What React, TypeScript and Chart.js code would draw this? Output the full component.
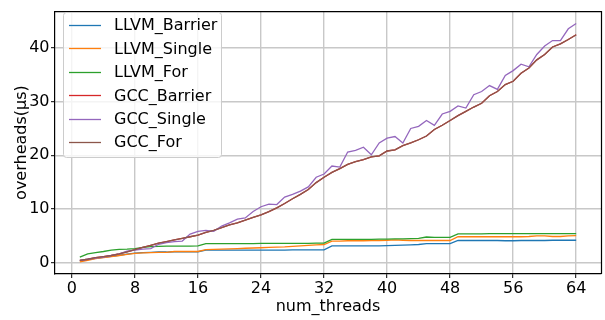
import React, { useEffect, useRef } from 'react';
import { Chart, registerables } from 'chart.js';

Chart.register(...registerables);

const threads: number[] = Array.from({ length: 64 }, (_, i) => i + 1);

const xTicks = [0, 8, 16, 24, 32, 40, 48, 56, 64];
const yTicks = [0, 10, 20, 30, 40];

const seriesNames = ['LLVM_Barrier', 'LLVM_Single', 'LLVM_For', 'GCC_Barrier', 'GCC_Single', 'GCC_For'];
const seriesColors = ['#1f77b4', '#ff7f0e', '#2ca02c', '#d62728', '#9467bd', '#8c564b'];

const llvmBarrier = [
  0.35, 0.55, 0.75, 0.95, 1.15, 1.35, 1.55, 1.75, 1.85, 1.9, 1.95, 1.95, 2.0, 2.0, 2.0, 2.0,
  2.3, 2.3, 2.3, 2.3, 2.3, 2.3, 2.3, 2.3, 2.3, 2.3, 2.3, 2.35, 2.35, 2.35, 2.35, 2.35,
  3.1, 3.1, 3.1, 3.1, 3.1, 3.1, 3.1, 3.15, 3.2, 3.25, 3.3, 3.35, 3.5, 3.5, 3.5, 3.5,
  4.1, 4.1, 4.1, 4.1, 4.1, 4.1, 4.05, 4.05, 4.1, 4.1, 4.1, 4.1, 4.15, 4.15, 4.15, 4.15,
];

const llvmSingle = [
  0.1, 0.4, 0.7, 0.9, 1.1, 1.3, 1.5, 1.7, 1.8, 1.85, 1.9, 1.9, 2.05, 2.05, 2.05, 2.05,
  2.4, 2.45, 2.5, 2.55, 2.6, 2.65, 2.7, 2.75, 2.8, 2.85, 2.9, 3.0, 3.1, 3.2, 3.3, 3.35,
  4.0, 4.0, 4.05, 4.05, 4.05, 4.1, 4.1, 4.15, 4.2, 4.15, 4.1, 4.1, 4.1, 4.1, 4.1, 4.1,
  4.8, 4.8, 4.8, 4.8, 4.8, 4.8, 4.8, 4.8, 4.8, 4.85, 4.95, 4.95, 4.85, 4.85, 4.95, 5.0,
];

const llvmFor = [
  1.0, 1.6, 1.85, 2.05, 2.3, 2.45, 2.5, 2.6, 2.8, 2.95, 3.0, 3.05, 3.05, 3.05, 3.05, 3.1,
  3.5, 3.5, 3.5, 3.5, 3.5, 3.5, 3.5, 3.55, 3.55, 3.55, 3.55, 3.55, 3.55, 3.55, 3.6, 3.6,
  4.3, 4.3, 4.3, 4.3, 4.3, 4.3, 4.35, 4.35, 4.4, 4.4, 4.45, 4.5, 4.75, 4.7, 4.7, 4.7,
  5.35, 5.35, 5.35, 5.35, 5.4, 5.4, 5.4, 5.4, 5.4, 5.4, 5.4, 5.4, 5.4, 5.4, 5.4, 5.4,
];

const gccBarrier = [
  0.4, 0.6, 0.9, 1.1, 1.3, 1.6, 2.0, 2.4, 2.8, 3.2, 3.6, 3.9, 4.2, 4.5, 4.8, 5.1,
  5.6, 6.0, 6.5, 7.0, 7.4, 7.9, 8.4, 8.9, 9.5, 10.2, 11.0, 11.9, 12.7, 13.6, 14.9, 15.9,
  16.8, 17.5, 18.3, 18.8, 19.2, 19.7, 19.9, 20.8, 21.0, 21.8, 22.3, 22.9, 23.6, 24.8, 25.6, 26.5,
  27.4, 28.2, 29.0, 29.7, 31.1, 31.9, 33.2, 33.8, 35.3, 36.3, 37.8, 38.8, 40.2, 40.8, 41.6, 42.5,
];

const gccSingle = [
  0.4, 0.6, 0.8, 1.0, 1.3, 1.6, 2.1, 2.3, 2.5, 2.6, 3.4, 3.7, 3.9, 4.0, 5.3, 5.8,
  6.0, 5.8, 6.8, 7.4, 8.1, 8.3, 9.5, 10.4, 10.9, 10.8, 12.2, 12.7, 13.3, 14.1, 15.9, 16.5,
  18.0, 17.8, 20.6, 20.9, 21.5, 20.1, 22.3, 23.2, 23.5, 22.3, 25.0, 25.4, 26.5, 25.6, 27.7, 28.2,
  29.2, 28.8, 31.3, 31.9, 33.0, 32.3, 34.9, 35.8, 37.0, 36.5, 38.8, 40.4, 41.4, 41.4, 43.6, 44.6,
];

const gccFor = [
  0.4, 0.6, 0.9, 1.1, 1.3, 1.6, 2.0, 2.4, 2.8, 3.2, 3.6, 3.9, 4.2, 4.5, 4.8, 5.1,
  5.6, 6.0, 6.5, 7.0, 7.4, 7.9, 8.4, 8.9, 9.5, 10.2, 11.0, 11.9, 12.7, 13.6, 14.9, 15.9,
  16.8, 17.5, 18.3, 18.8, 19.2, 19.7, 19.9, 20.8, 21.0, 21.8, 22.3, 22.9, 23.6, 24.8, 25.6, 26.5,
  27.4, 28.2, 29.0, 29.7, 31.1, 31.9, 33.2, 33.8, 35.3, 36.3, 37.8, 38.8, 40.2, 40.8, 41.6, 42.5,
];

const seriesValues = [llvmBarrier, llvmSingle, llvmFor, gccBarrier, gccSingle, gccFor];

const FONT = '"DejaVu Sans", sans-serif';

const framePlugin = {
  id: 'frameAndLegend',
  afterDraw(chart: any) {
    const ctx = chart.ctx as CanvasRenderingContext2D;
    const a = chart.chartArea;
    ctx.save();
    // top and right spines
    ctx.strokeStyle = '#000';
    ctx.lineWidth = 1.2;
    ctx.beginPath();
    ctx.moveTo(a.left, a.top + 0.5);
    ctx.lineTo(a.right + 0.5, a.top + 0.5);
    ctx.lineTo(a.right + 0.5, a.bottom);
    ctx.stroke();

    // legend
    const bx = 63.5, by = 12.5, bw = 158, bh = 145, r = 3;
    ctx.beginPath();
    ctx.moveTo(bx + r, by);
    ctx.lineTo(bx + bw - r, by);
    ctx.arcTo(bx + bw, by, bx + bw, by + r, r);
    ctx.lineTo(bx + bw, by + bh - r);
    ctx.arcTo(bx + bw, by + bh, bx + bw - r, by + bh, r);
    ctx.lineTo(bx + r, by + bh);
    ctx.arcTo(bx, by + bh, bx, by + bh - r, r);
    ctx.lineTo(bx, by + r);
    ctx.arcTo(bx, by, bx + r, by, r);
    ctx.closePath();
    ctx.fillStyle = 'rgba(255,255,255,0.8)';
    ctx.fill();
    ctx.strokeStyle = '#cccccc';
    ctx.lineWidth = 1;
    ctx.stroke();

    const ds = chart.data.datasets;
    ctx.font = `16px ${FONT}`;
    ctx.textBaseline = 'middle';
    ctx.textAlign = 'left';
    for (let i = 0; i < ds.length; i++) {
      const yy = 25 + i * 23.45;
      ctx.strokeStyle = ds[i].borderColor;
      ctx.lineWidth = 1.3;
      ctx.beginPath();
      ctx.moveTo(69, Math.round(yy) + 0.5);
      ctx.lineTo(101, Math.round(yy) + 0.5);
      ctx.stroke();
      ctx.fillStyle = '#000';
      ctx.fillText(ds[i].label, 114, yy + 1);
    }
    ctx.restore();
  },
};

export default function App() {
  const ref = useRef<HTMLCanvasElement | null>(null);

  useEffect(() => {
    document.body.style.margin = '0';
    const canvas = ref.current;
    if (!canvas) return;

    const datasets = seriesNames.map((name, i) => ({
      label: name,
      data: threads.map((t, k) => ({ x: t, y: seriesValues[i][k] })),
      borderColor: seriesColors[i],
      backgroundColor: seriesColors[i],
      borderWidth: 1.3,
      pointRadius: 0,
      tension: 0,
      fill: false,
      order: seriesNames.length - 1 - i,
    }));

    const chart = new Chart(canvas, {
      type: 'line',
      data: { datasets },
      plugins: [framePlugin],
      options: {
        animation: false,
        responsive: false,
        devicePixelRatio: 1,
        layout: { padding: { left: 0, right: 4, top: 5, bottom: 0 } },
        plugins: {
          legend: { display: false },
          tooltip: { enabled: false },
        },
        scales: {
          x: {
            type: 'linear',
            min: -2.15,
            max: 67.15,
            afterFit: (s: any) => { s.height = 46; },
            afterBuildTicks: (s: any) => { s.ticks = xTicks.map((v) => ({ value: v })); },
            ticks: {
              color: '#000',
              font: { family: FONT, size: 16 },
              padding: 1.5,
              maxRotation: 0,
              autoSkip: false,
              callback: (v: any) => String(v),
            },
            grid: {
              color: '#c8c8c8',
              lineWidth: 1.4,
              tickColor: '#000',
              tickLength: 4,
              tickWidth: 1,
            },
            border: { display: true, color: '#000', width: 1.2 },
            title: {
              display: true,
              text: 'num_threads',
              color: '#000',
              font: { family: FONT, size: 16, lineHeight: 1.2 },
              padding: { top: 0, bottom: 3.5 },
            },
          },
          y: {
            type: 'linear',
            min: -2.15,
            max: 46.9,
            afterFit: (s: any) => { s.width = 55; },
            afterBuildTicks: (s: any) => { s.ticks = yTicks.map((v) => ({ value: v })); },
            ticks: {
              color: '#000',
              font: { family: FONT, size: 16 },
              padding: 1.5,
              autoSkip: false,
              callback: (v: any) => String(v),
            },
            grid: {
              color: '#c8c8c8',
              lineWidth: 1.4,
              tickColor: '#000',
              tickLength: 4,
              tickWidth: 1,
            },
            border: { display: true, color: '#000', width: 1.2 },
            title: {
              display: true,
              text: 'overheads(µs)',
              color: '#000',
              font: { family: FONT, size: 16, lineHeight: 1.2 },
              padding: { top: 11.8, bottom: 0 },
            },
          },
        },
      },
    });

    return () => {
      chart.destroy();
    };
  }, []);

  return (
    <div style={{ width: 605, height: 320 }}>
      <canvas ref={ref} width={605} height={320} style={{ width: 605, height: 320, display: 'block' }} />
    </div>
  );
}
